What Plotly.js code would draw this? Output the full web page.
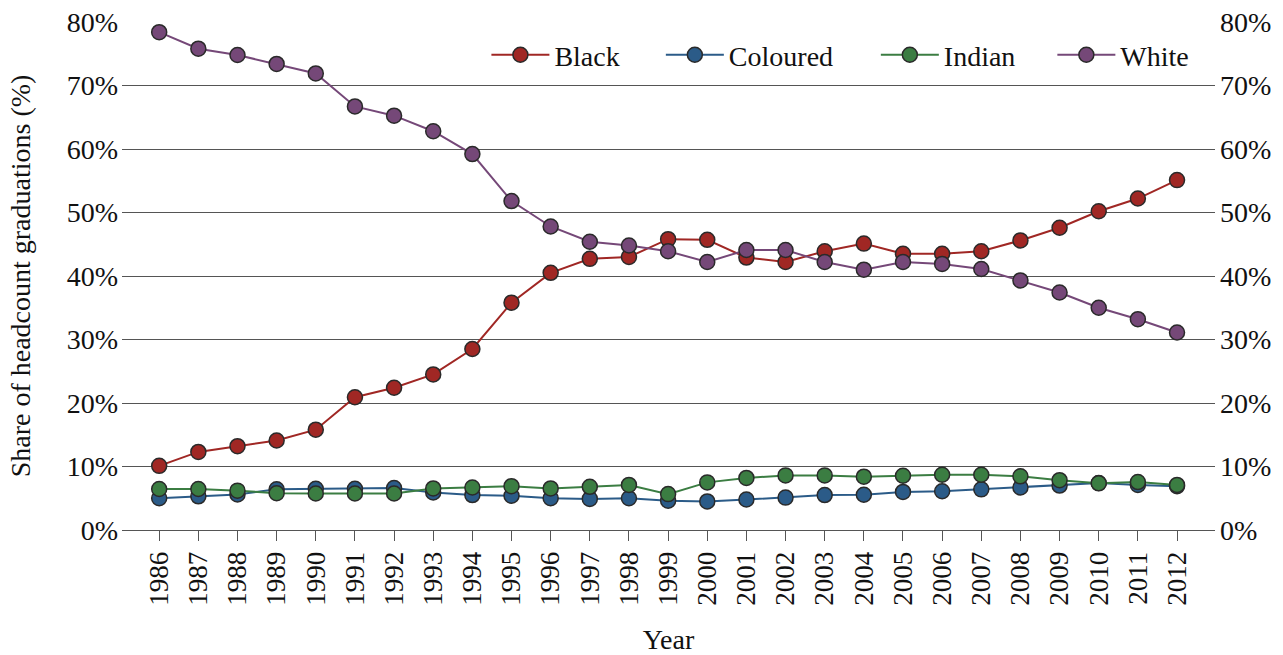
<!DOCTYPE html>
<html>
<head>
<meta charset="utf-8">
<script src="https://cdn.plot.ly/plotly-3.0.1.min.js"></script>
<style>
html,body{margin:0;padding:0;background:#fff;}
#chart{width:1283px;height:655px;}
</style>
</head>
<body>
<div id="chart"></div>
<script>
const years = [1986,1987,1988,1989,1990,1991,1992,1993,1994,1995,1996,1997,1998,1999,2000,2001,2002,2003,2004,2005,2006,2007,2008,2009,2010,2011,2012];
const black = [10.1,12.3,13.2,14.1,15.8,20.9,22.4,24.5,28.5,35.8,40.5,42.7,43.0,45.8,45.7,42.9,42.2,43.9,45.1,43.5,43.5,43.9,45.6,47.6,50.2,52.2,55.1];
const coloured = [5.0,5.3,5.6,6.4,6.5,6.5,6.6,5.9,5.5,5.4,5.0,4.9,5.0,4.6,4.5,4.8,5.1,5.5,5.55,6.0,6.1,6.4,6.7,7.0,7.4,7.1,6.9];
const indian = [6.45,6.45,6.2,5.8,5.75,5.75,5.75,6.55,6.7,6.9,6.55,6.8,7.1,5.65,7.5,8.2,8.6,8.6,8.4,8.55,8.7,8.7,8.45,7.85,7.35,7.55,7.1];
const white = [78.4,75.8,74.8,73.4,71.9,66.7,65.25,62.8,59.2,51.8,47.8,45.4,44.8,43.9,42.2,44.1,44.1,42.2,41.0,42.2,41.9,41.1,39.3,37.4,35.0,33.2,31.1];
const yTicks = [0,10,20,30,40,50,60,70,80];
const yTickText = ['0%','10%','20%','30%','40%','50%','60%','70%','80%'];

const FONT = '"Liberation Serif", "Times New Roman", Times, serif';
const series = [
  {name:'Black', y:black, color:'#a02724', legend:'legend', lx:0.3334},
  {name:'Coloured', y:coloured, color:'#2b5b88', legend:'legend2', lx:0.4930},
  {name:'Indian', y:indian, color:'#3b7d42', legend:'legend3', lx:0.6897},
  {name:'White', y:white, color:'#754878', legend:'legend4', lx:0.8512}
];

const traces = series.map(s => ({
  type:'scatter', mode:'lines+markers', name:s.name, x:years, y:s.y, legend:s.legend,
  line:{color:s.color, width:2},
  marker:{size:15, color:s.color, line:{color:'#2a2a2a', width:1.5}}
}));
// copy on the right-hand axis so its labels are drawn
traces.push({type:'scatter', mode:'lines', x:years, y:white, yaxis:'y2', showlegend:false,
  hoverinfo:'skip', line:{color:'rgba(0,0,0,0)', width:0}});

const layout = {
  width:1283, height:655,
  margin:{l:122, r:68, t:22, b:125},
  paper_bgcolor:'#fff', plot_bgcolor:'#fff',
  font:{family:FONT, size:28, color:'#111'},
  showlegend:true,
  xaxis:{
    range:[1985.05, 2012.97], tickmode:'array', tickvals:years, ticktext:years.map(String),
    tickangle:-90, ticks:'outside', ticklen:10, tickcolor:'#555', tickwidth:1,
    showgrid:false, zeroline:false, showline:true, linecolor:'#555', linewidth:1,
    tickfont:{family:FONT, size:27, color:'#111'},
    title:{text:'Year', font:{family:FONT, size:28, color:'#111'}, standoff:26}
  },
  yaxis:{
    range:[0,80], tickmode:'array', tickvals:yTicks, ticktext:yTickText,
    showgrid:true, gridcolor:'#555', gridwidth:1, zeroline:false, ticks:'', showline:false,
    ticklabelstandoff:3,
    tickfont:{family:FONT, size:28, color:'#111'},
    title:{text:'Share of headcount graduations (%)', font:{family:FONT, size:28, color:'#111'}, standoff:27}
  },
  yaxis2:{
    range:[0,80], overlaying:'y', side:'right', tickmode:'array', tickvals:yTicks, ticktext:yTickText,
    showgrid:false, zeroline:false, ticks:'', showline:false, ticklabelstandoff:4,
    tickfont:{family:FONT, size:28, color:'#111'}
  }
};
series.forEach(s => {
  layout[s.legend] = {orientation:'h', x:s.lx, xanchor:'left', y:0.935, yanchor:'middle',
    bgcolor:'rgba(255,255,255,0)', borderwidth:0, itemwidth:58,
    font:{family:FONT, size:28, color:'#111'}};
});

Plotly.newPlot('chart', traces, layout, {displayModeBar:false, staticPlot:true});
</script>
</body>
</html>
